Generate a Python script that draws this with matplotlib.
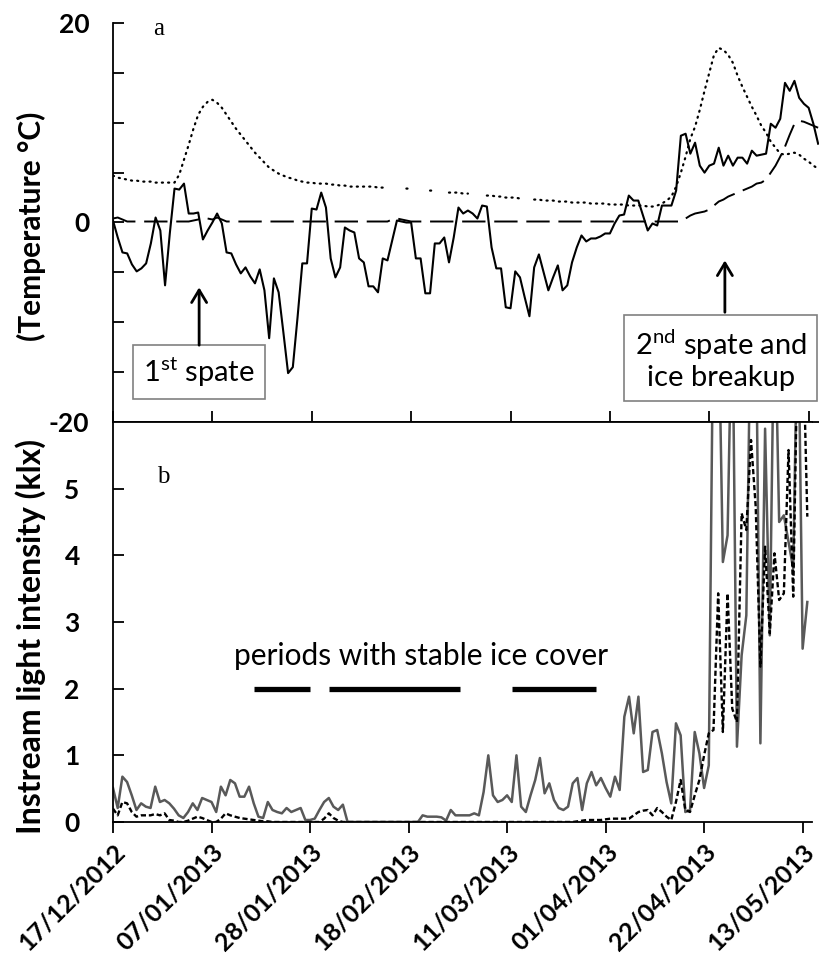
import matplotlib.pyplot as plt
import numpy as np
import pandas as pd

plt.rcParams['font.family'] = ['Lato', 'DejaVu Sans']
plt.rcParams['mathtext.fontset'] = 'custom'
plt.rcParams['mathtext.rm'] = 'Lato'

nan = np.nan
start = pd.Timestamp('2012-12-17')

# daily air temperature (solid), degC
air_temp = [
    0.2, -1.5, -3.0, -3.1, -4.2, -4.9, -4.6, -4.1, -2.1, 0.5,
    -0.8, -6.3, -1.1, 3.4, 3.3, 3.9, 0.9, 0.9, 1.0, -1.7,
    -0.8, 0.0, 0.9, -0.1, -3.0, -3.1, -4.2, -5.1, -4.5, -5.4,
    -6.1, -4.7, -6.8, -11.6, -5.6, -7.0, -11.0, -15.1, -14.5, -9.5,
    -4.1, -4.1, 1.4, 1.3, 3.0, 1.5, -3.6, -5.5, -4.5, -0.5,
    -0.8, -1.0, -3.6, -4.0, -6.4, -6.4, -7.0, -3.6, -3.8, -1.8,
    0.2, 0.1, 0.0, 0.0, -3.6, -3.6, -7.1, -7.1, -2.1, -2.1,
    -1.5, -4.0, -1.5, 1.5, 0.9, 1.2, 0.9, 0.4, 1.7, 1.6,
    -2.5, -4.6, -4.6, -8.5, -8.6, -4.9, -5.5, -7.5, -9.4, -4.5,
    -3.2, -5.0, -6.8, -5.5, -4.3, -6.8, -6.3, -4.0, -2.5, -1.3,
    -1.9, -1.6, -1.6, -1.4, -1.1, -1.1, -0.1, 0.7, 0.8, 2.7,
    2.2, 2.2, 0.7, -0.8, -0.1, -0.3, 1.7, 1.7, 1.7, 3.2,
    8.7, 8.9, 6.9, 8.0, 5.7, 5.0, 5.7, 5.9, 7.5, 5.7,
    6.7, 5.7, 6.5, 6.5, 5.9, 7.2, 6.7, 6.8, 6.9, 9.9,
    9.5, 10.4, 14.0, 13.2, 14.2, 12.5, 11.9, 11.5, 9.9, 7.9,
]

# daily water temperature (dashed), degC
water_temp = [
    0.4, 0.5, 0.3, 0.1, 0.1, 0.1, 0.1, 0.1, 0.1, 0.1,
    0.1, 0.1, 0.1, 0.1, 0.1, 0.1, 0.1, 0.2, 0.3, 0.5,
    0.4, 0.3, 0.5, 0.3, 0.1, 0.1, 0.1, 0.1, 0.1, 0.1,
    0.1, 0.1, 0.1, 0.1, 0.1, 0.1, 0.1, 0.1, 0.1, 0.1,
    0.1, 0.1, 0.1, 0.1, 0.1, 0.1, 0.1, 0.1, 0.1, 0.1,
    0.1, 0.1, 0.1, 0.1, 0.1, 0.1, 0.1, 0.1, 0.1, 0.3,
    0.4, 0.3, 0.2, 0.1, 0.1, 0.1, 0.1, 0.1, 0.1, 0.1,
    0.1, 0.1, 0.1, 0.1, 0.1, 0.1, 0.1, 0.1, 0.1, 0.1,
    0.1, 0.1, 0.1, 0.1, 0.1, 0.1, 0.1, 0.1, 0.1, 0.1,
    0.1, 0.1, 0.1, 0.1, 0.1, 0.1, 0.1, 0.1, 0.1, 0.1,
    0.1, 0.1, 0.1, 0.1, 0.1, 0.1, 0.1, 0.1, 0.1, 0.1,
    0.1, 0.1, 0.1, 0.1, 0.1, 0.1, 0.1, 0.1, 0.1, 0.1,
    0.1, 0.4, 0.7, 0.9, 1.0, 1.1, 1.3, 1.7, 2.1, 2.3,
    2.6, 2.8, 3.0, 3.2, 3.4, 3.6, 3.9, 4.0, 4.3, 5.0,
    5.7, 6.6, 7.6, 8.8, 9.9, 10.2, 10.1, 9.9, 9.7, 9.5,
]

# daily discharge on the temperature scale (dotted), gaps = missing days
discharge = [
    4.7, 4.5, 4.4, 4.3, 4.2, 4.2, 4.1, 4.1, 4.1, 4.0,
    4.0, 4.0, 4.0, 4.0, 4.8, 6.3, 7.8, 9.4, 10.8, 11.6,
    12.1, 12.3, 12.0, 11.5, 10.8, 10.1, 9.4, 8.8, 8.2, 7.6,
    7.0, 6.5, 6.0, 5.5, 5.2, 4.9, 4.7, 4.5, 4.4, 4.2,
    4.1, 4.0, 4.0, 3.9, 3.9, 3.9, 3.8, 3.8, 3.7, 3.7,
    3.6, 3.6, 3.6, 3.6, 3.6, 3.6, 3.5, 3.5, 3.5, nan,
    nan, nan, 3.4, 3.4, nan, nan, nan, 3.2, 3.2, nan,
    nan, 3.0, 3.0, 3.0, 2.9, 2.9, nan, nan, nan, 2.7,
    2.7, 2.6, 2.6, 2.5, 2.5, 2.5, 2.4, nan, nan, 2.3,
    2.3, 2.2, 2.2, 2.2, 2.1, 2.1, 2.1, 2.0, 2.0, 2.0,
    2.0, 1.9, 1.9, 1.9, 1.9, 1.8, 1.8, 1.8, 1.8, 1.7,
    1.7, 1.7, 1.7, 1.6, 1.6, 1.7, 1.9, 2.2, 2.6, 3.6,
    5.0, 6.6, 8.4, 9.6, 11.3, 13.2, 15.0, 16.8, 17.5, 17.3,
    16.8, 16.0, 14.7, 13.6, 12.6, 11.6, 10.7, 9.7, 9.0, 8.1,
    7.5, 6.9, 6.8, 6.9, 7.0, 6.8, 6.4, 6.1, 5.7, 5.4,
]

# daily instream light intensity, klx
light_a = [
    0.51, 0.21, 0.68, 0.60, 0.40, 0.18, 0.28, 0.23, 0.21, 0.53,
    0.30, 0.33, 0.28, 0.20, 0.10, 0.06, 0.15, 0.28, 0.18, 0.36,
    0.33, 0.30, 0.15, 0.53, 0.40, 0.63, 0.58, 0.38, 0.38, 0.53,
    0.28, 0.08, 0.06, 0.30, 0.18, 0.15, 0.13, 0.21, 0.15, 0.18,
    0.21, 0.03, 0.03, 0.05, 0.18, 0.30, 0.36, 0.23, 0.18, 0.26,
    0.00, 0.00, 0.00, 0.00, 0.00, 0.00, 0.00, 0.00, 0.00, 0.00,
    0.00, 0.00, 0.00, 0.00, 0.00, 0.00, 0.10, 0.08, 0.08, 0.08,
    0.07, 0.02, 0.18, 0.10, 0.10, 0.10, 0.10, 0.13, 0.10, 0.45,
    1.00, 0.40, 0.30, 0.33, 0.40, 0.30, 1.00, 0.23, 0.15, 0.40,
    0.63, 0.96, 0.43, 0.58, 0.33, 0.21, 0.18, 0.23, 0.58, 0.66,
    0.18, 0.58, 0.75, 0.55, 0.66, 0.51, 0.38, 0.68, 0.48, 1.58,
    1.88, 1.33, 1.88, 0.75, 0.78, 1.35, 1.38, 1.03, 0.60, 0.28,
    1.48, 1.30, 0.15, 0.18, 1.35, 1.03, 0.51, 0.85, 8.00, 8.00,
    3.90, 4.30, 8.00, 1.13, 2.50, 3.10, 8.00, 8.00, 1.18, 5.90,
    2.80, 8.00, 4.50, 4.60, 4.20, 3.80, 8.00, 2.60, 3.30,
]

light_b = [
    0.20, 0.10, 0.30, 0.28, 0.15, 0.08, 0.10, 0.10, 0.10, 0.12,
    0.10, 0.13, 0.03, 0.02, 0.00, 0.00, 0.02, 0.05, 0.08, 0.06,
    0.03, 0.00, 0.00, 0.05, 0.13, 0.10, 0.08, 0.06, 0.05, 0.04,
    0.03, 0.02, 0.01, 0.01, 0.00, 0.00, 0.00, 0.00, 0.00, 0.00,
    0.00, 0.00, 0.00, 0.00, 0.00, 0.05, 0.13, 0.06, 0.02, 0.00,
    0.00, 0.00, 0.00, 0.00, 0.00, 0.00, 0.00, 0.00, 0.00, 0.00,
    0.00, 0.00, 0.00, 0.00, 0.00, 0.00, 0.00, 0.00, 0.00, 0.00,
    0.00, 0.00, 0.00, 0.00, 0.00, 0.00, 0.00, 0.00, 0.00, 0.00,
    0.00, 0.00, 0.00, 0.00, 0.00, 0.00, 0.00, 0.00, 0.00, 0.00,
    0.00, 0.00, 0.00, 0.00, 0.00, 0.00, 0.00, 0.00, 0.00, 0.01,
    0.02, 0.03, 0.03, 0.03, 0.03, 0.04, 0.05, 0.05, 0.05, 0.05,
    0.05, 0.10, 0.15, 0.17, 0.18, 0.10, 0.21, 0.15, 0.08, 0.03,
    0.30, 0.63, 0.18, 0.15, 0.40, 0.63, 1.00, 1.33, 1.38, 3.43,
    1.35, 3.43, 1.70, 1.50, 4.63, 4.38, 5.73, 4.73, 2.33, 4.13,
    2.83, 4.03, 3.33, 3.43, 5.58, 3.38, 7.50, 7.50, 4.58,
]

tick_labels = ['17/12/2012', '07/01/2013', '28/01/2013', '18/02/2013',
               '11/03/2013', '01/04/2013', '22/04/2013', '13/05/2013']
ice_periods = [('2013-01-16', '2013-01-28'),
               ('2013-02-01', '2013-03-01'),
               ('2013-03-12', '2013-03-30')]

days_top = pd.date_range(start, periods=len(air_temp), freq='D')
days_bot = pd.date_range(start, periods=len(light_a), freq='D')
tick_dates = pd.to_datetime(tick_labels, dayfirst=True)

W, H = 820, 963
fig = plt.figure(figsize=(W / 100, H / 100), dpi=100)
ax1 = fig.add_axes([113 / W, 541 / H, 707 / W, 399 / H])
ax2 = fig.add_axes([113 / W, 141 / H, 699 / W, 400 / H])

# --- a: temperatures ---
ax1.plot(days_top, air_temp, color='black', lw=1.5)
ax1.plot(days_top, water_temp, color='black', lw=1.4, dashes=(12, 4.5))
ax1.plot(days_top, discharge, color='black', lw=1.6, dashes=(0.5, 2.3),
         dash_capstyle='round')
ax1.set_xlim(start, start + pd.Timedelta(days=149.4))
ax1.set_ylim(-20, 20)
ax1.set_yticks(np.arange(-20, 21, 5))
ax1.set_yticklabels(['-20', '', '', '', '0', '', '', '', '20'])
ax1.set_xticks(tick_dates)
ax1.tick_params(axis='x', direction='in', length=8, width=1.3, labelbottom=False)
ax1.tick_params(axis='y', direction='in', length=8, width=1.3, pad=17,
                labelsize=19)
for lab in ax1.get_yticklabels():
    lab.set_fontweight('bold')
for s in ['top', 'right']:
    ax1.spines[s].set_visible(False)
for s in ['left', 'bottom']:
    ax1.spines[s].set_linewidth(1.3)
ax1.patch.set_alpha(0)
ax1.text(0.057, 0.97, 'a', transform=ax1.transAxes, family='Liberation Serif',
         fontsize=18, va='baseline')

box = dict(boxstyle='square,pad=0.35', fc='white', ec='#808080', lw=1.2)
ax1.text(start + pd.Timedelta(days=18.2), -15.0, '1$^{\\mathrm{st}}$ spate',
         ha='center', va='center', fontsize=21, bbox=box)
ax1.text(start + pd.Timedelta(days=128.4), -13.7,
         '2$^{\\mathrm{nd}}$ spate and\nice breakup', ha='center', va='center',
         fontsize=21, linespacing=1.15, bbox=box, clip_on=False)
arrow = dict(arrowstyle='->,head_length=0.5,head_width=0.3', lw=2,
             color='black', mutation_scale=18, shrinkA=0, shrinkB=0)
ax1.annotate('', xy=(start + pd.Timedelta(days=18.2), -6.5),
             xytext=(start + pd.Timedelta(days=18.2), -12.3), arrowprops=arrow)
ax1.annotate('', xy=(start + pd.Timedelta(days=129.3), -3.8),
             xytext=(start + pd.Timedelta(days=129.3), -9.0), arrowprops=arrow)

# --- b: light ---
ax2.plot(days_bot, light_a, color='#595959', lw=1.8)
ax2.plot(days_bot, light_b, color='black', lw=1.7, dashes=(2.2, 1.2))
for a, b in ice_periods:
    ax2.hlines(2, pd.Timestamp(a), pd.Timestamp(b), color='black', lw=3.8)
ax2.text(start + pd.Timedelta(days=65.7), 2.35, 'periods with stable ice cover',
         ha='center', va='baseline', fontsize=21.5)
ax2.text(0.063, 0.8475, 'b', transform=ax2.transAxes, family='Liberation Serif',
         fontsize=18, va='baseline')
ax2.set_xlim(start, start + pd.Timedelta(days=149.0))
ax2.set_ylim(0, 6)
ax2.set_yticks(range(6))
ax2.set_xticks(tick_dates)
ax2.set_xticklabels(tick_labels, rotation=45, ha='right', va='top',
                    rotation_mode='anchor', fontsize=18, fontweight='bold')
ax2.tick_params(axis='x', direction='out', length=8, width=1.3, pad=5)
ax2.tick_params(axis='y', direction='in', length=8, width=1.3, pad=24,
                labelsize=19)
for lab in ax2.get_yticklabels():
    lab.set_fontweight('bold')
ax2.spines['right'].set_visible(False)
for s in ['left', 'bottom', 'top']:
    ax2.spines[s].set_linewidth(1.3)

fig.text(31 / W, 1 - 226 / H, '(Temperature °C)', rotation=90, ha='center',
         va='center', fontsize=21.5, fontweight='bold')
fig.text(31 / W, 1 - 636 / H, 'Instream light intensity (klx)', rotation=90,
         ha='center', va='center', fontsize=23, fontweight='bold')

fig.savefig('out.png', dpi=100)
